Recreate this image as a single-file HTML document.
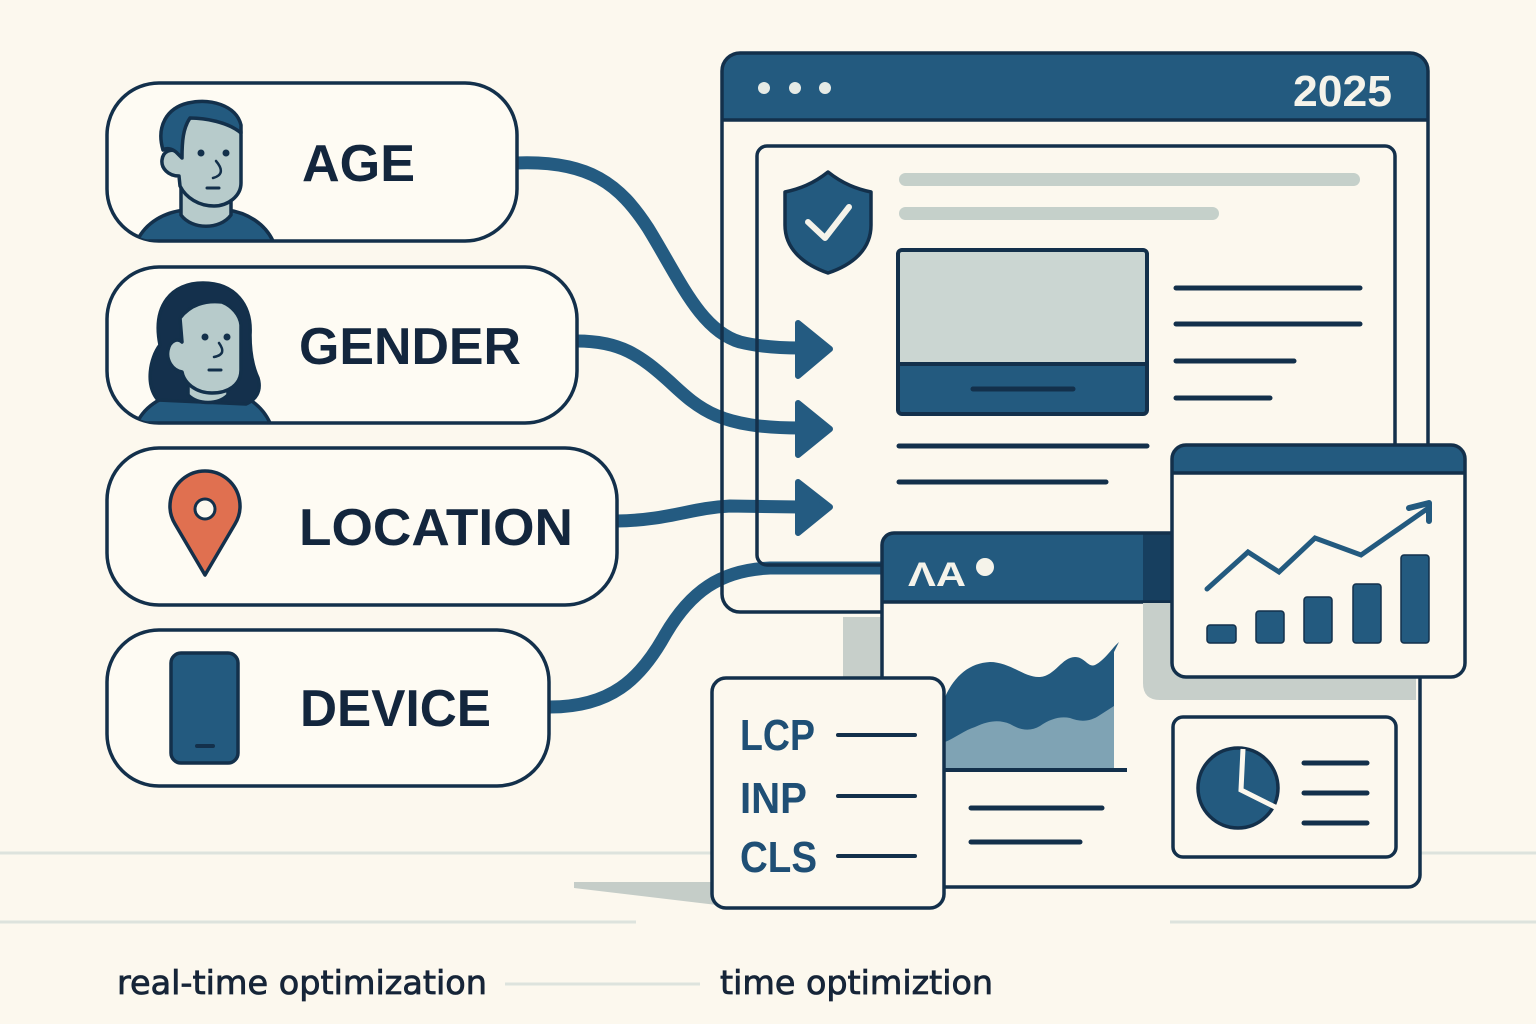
<!DOCTYPE html>
<html><head><meta charset="utf-8"><style>
html,body{margin:0;padding:0;background:#fcf8ee;}
svg{display:block}
</style></head><body>
<svg width="1536" height="1024" viewBox="0 0 1536 1024" xmlns="http://www.w3.org/2000/svg">
<defs>
<clipPath id="cAge"><rect x="107" y="83" width="410" height="158" rx="52"/></clipPath>
<clipPath id="cGen"><rect x="107" y="267" width="470" height="156" rx="52"/></clipPath>
</defs>
<rect width="1536" height="1024" fill="#fcf8ee"/>

<!-- light ground lines -->
<g stroke="#dde3dd" stroke-width="3">
<line x1="0" y1="853" x2="1536" y2="853"/>
<line x1="0" y1="922" x2="636" y2="922"/>
<line x1="1170" y1="922" x2="1536" y2="922"/>
<line x1="505" y1="984" x2="700" y2="984"/>
</g>
<polygon points="574,882 732,882 742,908 574,888" fill="#c5cdc8"/>

<!-- main browser window -->
<rect x="722" y="53" width="706" height="559" rx="18" fill="#fcf8ee"/>
<path d="M722,120 V71 Q722,53 740,53 H1410 Q1428,53 1428,71 V120 Z" fill="#235a7f"/>
<line x1="722" y1="120" x2="1428" y2="120" stroke="#13304b" stroke-width="3.5"/>
<g fill="#e6ebe6"><circle cx="764" cy="88" r="6"/><circle cx="795" cy="88" r="6"/><circle cx="825" cy="88" r="6"/></g>
<text x="1293" y="106" font-family="Liberation Sans, sans-serif" font-weight="bold" font-size="44" fill="#f5f3ea" textLength="99" lengthAdjust="spacingAndGlyphs">2025</text>

<!-- shield -->
<path d="M828,172 C843,184 857,189 871,192 L871,225 C871,250 852,265 828,273 C805,265 785,250 785,225 L785,192 C799,189 813,184 828,172 Z" fill="#235a7f" stroke="#13304b" stroke-width="3.5" stroke-linejoin="round"/>
<path d="M808,222 L825,238 L849,207" fill="none" stroke="#f5f3ea" stroke-width="6" stroke-linecap="round" stroke-linejoin="round"/>

<!-- grey bars -->
<rect x="899" y="173" width="461" height="13" rx="6.5" fill="#c5d0ca"/>
<rect x="899" y="207" width="320" height="13" rx="6.5" fill="#c5d0ca"/>

<!-- image block -->
<rect x="898" y="250" width="249" height="164" rx="4" fill="#cbd6d2"/>
<path d="M898,364 H1147 V410 Q1147,414 1143,414 H902 Q898,414 898,410 Z" fill="#235a7f"/>
<line x1="898" y1="364" x2="1147" y2="364" stroke="#13304b" stroke-width="4"/>
<rect x="898" y="250" width="249" height="164" rx="4" fill="none" stroke="#13304b" stroke-width="4"/>
<line x1="973" y1="389" x2="1073" y2="389" stroke="#13304b" stroke-width="5" stroke-linecap="round"/>

<g stroke="#13304b" stroke-width="5" stroke-linecap="round">
<line x1="1176" y1="288" x2="1360" y2="288"/>
<line x1="1176" y1="324" x2="1360" y2="324"/>
<line x1="1176" y1="361" x2="1294" y2="361"/>
<line x1="1176" y1="398" x2="1270" y2="398"/>
<line x1="899" y1="446" x2="1147" y2="446"/>
<line x1="899" y1="482" x2="1106" y2="482"/>
</g>

<!-- connectors -->
<g fill="none" stroke="#245b81" stroke-width="13">
<path d="M516,163 C590,160 620,185 648,228 C680,280 700,330 740,342 C760,347 780,348 800,348"/>
<path d="M577,341 C620,341 640,355 670,382 C700,410 720,428 800,428"/>
<path d="M617,521 C670,520 690,508 730,506 L800,507"/>
<path d="M550,707 C610,707 640,680 665,635 C690,592 720,570 770,568 L884,568"/>
</g>
<g fill="#245b81" stroke="#245b81" stroke-width="6" stroke-linejoin="round">
<polygon points="798,323 830,349 798,376"/>
<polygon points="798,403 830,429 798,455"/>
<polygon points="798,482 830,507 798,533"/>
</g>

<!-- frame outlines (on top of connectors) -->
<rect x="722" y="53" width="706" height="559" rx="18" fill="none" stroke="#13304b" stroke-width="3.5"/>
<rect x="757" y="146" width="638" height="419" rx="10" fill="none" stroke="#13304b" stroke-width="3.5"/>

<!-- shadows -->
<rect x="843" y="617" width="40" height="60" fill="#c7cfca"/>

<!-- AA dashboard window -->
<rect x="882" y="533" width="538" height="354" rx="12" fill="#fcf8ee"/>
<path d="M882,602 V545 Q882,533 894,533 H1408 Q1420,533 1420,545 V602 Z" fill="#235a7f"/>
<rect x="1143" y="533" width="40" height="69" fill="#173f5f"/>
<line x1="882" y1="602" x2="1420" y2="602" stroke="#13304b" stroke-width="3.5"/>
<rect x="882" y="533" width="538" height="354" rx="12" fill="none" stroke="#13304b" stroke-width="3.5"/>
<text x="908" y="586" font-family="Liberation Sans, DejaVu Sans, sans-serif" font-weight="bold" font-size="34" fill="#f5f3ea" textLength="58" lengthAdjust="spacingAndGlyphs">ΛA</text>
<circle cx="985" cy="567" r="9" fill="#f5f3ea"/>

<path d="M1143,603 H1416 V700 H1160 Q1143,700 1143,683 Z" fill="#c7cfca"/>

<!-- area chart -->
<path d="M945,768 L945,697 C955,675 970,663 990,662 C1010,662 1025,678 1040,677 C1055,676 1062,657 1075,657 C1085,657 1088,668 1095,665 C1105,660 1112,648 1119,642 L1114,652 L1114,768 Z" fill="#235a7f"/>
<path d="M945,742 C955,738 965,730 975,727 C990,720 1000,720 1010,724 C1020,730 1030,732 1040,726 C1050,719 1060,716 1070,718 C1080,722 1090,722 1100,715 L1114,706 L1114,768 L945,768 Z" fill="#7fa3b4"/>
<line x1="944" y1="770" x2="1127" y2="770" stroke="#13304b" stroke-width="4"/>
<g stroke="#13304b" stroke-width="5" stroke-linecap="round">
<line x1="971" y1="808" x2="1102" y2="808"/>
<line x1="971" y1="842" x2="1080" y2="842"/>
</g>

<!-- pie card -->
<rect x="1173" y="717" width="223" height="140" rx="10" fill="#fcf8ee" stroke="#13304b" stroke-width="3.5"/>
<circle cx="1238" cy="788" r="40" fill="#235a7f" stroke="#13304b" stroke-width="3.5"/>
<path d="M1243,749 L1241,790 L1277,808" fill="none" stroke="#fcf8ee" stroke-width="5"/>
<g stroke="#13304b" stroke-width="5" stroke-linecap="round">
<line x1="1304" y1="763" x2="1367" y2="763"/>
<line x1="1304" y1="793" x2="1367" y2="793"/>
<line x1="1304" y1="823" x2="1367" y2="823"/>
</g>

<!-- chart window -->
<rect x="1172" y="445" width="293" height="232" rx="14" fill="#fcf8ee"/>
<path d="M1172,473 V459 Q1172,445 1186,445 H1451 Q1465,445 1465,459 V473 Z" fill="#235a7f"/>
<line x1="1172" y1="473" x2="1465" y2="473" stroke="#13304b" stroke-width="3.5"/>
<rect x="1172" y="445" width="293" height="232" rx="14" fill="none" stroke="#13304b" stroke-width="3.5"/>
<polyline points="1207,589 1248,552 1279,572 1315,538 1361,555 1427,509" fill="none" stroke="#235a7f" stroke-width="5" stroke-linecap="round"/>
<path d="M1409,508 L1429,503 L1429,521" fill="none" stroke="#235a7f" stroke-width="6" stroke-linecap="round" stroke-linejoin="round"/>
<g fill="#235a7f" stroke="#13304b" stroke-width="1.5">
<rect x="1207" y="625" width="29" height="18" rx="3"/>
<rect x="1256" y="611" width="28" height="32" rx="3"/>
<rect x="1304" y="597" width="28" height="46" rx="3"/>
<rect x="1353" y="584" width="28" height="59" rx="3"/>
<rect x="1401" y="555" width="28" height="88" rx="3"/>
</g>

<!-- LCP card -->
<rect x="712" y="678" width="232" height="230" rx="14" fill="#fcf8ee" stroke="#13304b" stroke-width="3.5"/>
<g font-family="Liberation Sans, sans-serif" font-weight="bold" font-size="44" fill="#1f4f75">
<text x="740" y="750" textLength="75" lengthAdjust="spacingAndGlyphs">LCP</text>
<text x="740" y="813" textLength="67" lengthAdjust="spacingAndGlyphs">INP</text>
<text x="740" y="872" textLength="77" lengthAdjust="spacingAndGlyphs">CLS</text>
</g>
<g stroke="#13304b" stroke-width="4" stroke-linecap="round">
<line x1="838" y1="735" x2="915" y2="735"/>
<line x1="838" y1="796" x2="915" y2="796"/>
<line x1="838" y1="856" x2="915" y2="856"/>
</g>

<!-- pills -->
<g fill="#fefbf3" stroke="#13304b" stroke-width="3.5">
<rect x="107" y="83" width="410" height="158" rx="52"/>
<rect x="107" y="267" width="470" height="156" rx="52"/>
<rect x="107" y="448" width="510" height="157" rx="52"/>
<rect x="107" y="630" width="442" height="156" rx="52"/>
</g>

<!-- man icon -->
<g clip-path="url(#cAge)" stroke="#13304b" stroke-width="3.5" stroke-linejoin="round">
<path d="M137,241 C146,222 165,212 185,210 L228,210 C248,213 265,224 273,241 Z" fill="#235a7f"/>
</g>
<g stroke="#13304b" stroke-width="3.5" stroke-linejoin="round">
<path d="M181,180 L181,215 C192,230 220,230 231,215 L231,180 Z" fill="#b7cbcb"/>
<path d="M168,125 C170,110 185,104 205,104 C228,104 241,115 241,135 L241,183 C241,196 228,206 214,206 C199,206 186,198 180,186 L179,176 C168,176 161,168 162,160 C163,151 171,148 178,152 Z" fill="#b7cbcb"/>
<path d="M163,150 C156,126 167,108 188,103 C210,98 236,105 241,125 L241,133 C228,122 205,118 190,118 C183,128 182,142 182,158 L176,152 C171,148 166,148 163,150 Z" fill="#235a7f"/>
</g>
<g fill="#13304b"><circle cx="201" cy="153" r="3.5"/><circle cx="226" cy="153" r="3.5"/></g>
<path d="M216,161 C222,168 224,175 213,178" fill="none" stroke="#13304b" stroke-width="2.5" stroke-linecap="round"/>
<line x1="207" y1="188" x2="219" y2="188" stroke="#13304b" stroke-width="3" stroke-linecap="round"/>

<!-- woman icon -->
<g clip-path="url(#cGen)" stroke="#13304b" stroke-width="3.5" stroke-linejoin="round">
<path d="M137,423 C145,405 165,394 187,391 L227,391 C245,394 262,405 270,423 Z" fill="#235a7f"/>
</g>
<g stroke="#13304b" stroke-width="3.5" stroke-linejoin="round">
<path d="M158,400 C145,385 150,358 160,345 C152,305 172,283 203,283 C235,283 252,305 250,335 C250,350 252,365 258,378 C262,392 255,400 246,404 Z" fill="#14304c"/>
<path d="M188,372 L188,395 C198,405 218,405 228,395 L228,372 Z" fill="#b7cbcb"/>
<path d="M180,318 C190,305 205,300 222,302 C232,306 240,315 241,325 L241,370 C241,385 228,393 212,393 C196,393 184,383 182,372 C172,370 166,360 168,350 C170,340 178,338 182,342 Z" fill="#b7cbcb"/>
</g>
<g fill="#13304b"><circle cx="205" cy="337" r="3.5"/><circle cx="227" cy="337" r="3.5"/></g>
<path d="M219,343 C224,350 224,355 214,357" fill="none" stroke="#13304b" stroke-width="2.5" stroke-linecap="round"/>
<line x1="209" y1="370" x2="221" y2="370" stroke="#13304b" stroke-width="3" stroke-linecap="round"/>

<!-- location pin -->
<path d="M205,575 L175,524 A35,35 0 1 1 235,524 Z" fill="#e07050" stroke="#13304b" stroke-width="3.5" stroke-linejoin="round"/>
<circle cx="205" cy="509" r="10" fill="#fcf8ee" stroke="#13304b" stroke-width="3"/>

<!-- phone -->
<rect x="171" y="653" width="67" height="110" rx="10" fill="#235a7f" stroke="#13304b" stroke-width="3.5"/>
<line x1="197" y1="746" x2="213" y2="746" stroke="#13304b" stroke-width="4" stroke-linecap="round"/>

<!-- pill labels -->
<g font-family="Liberation Sans, sans-serif" font-weight="bold" font-size="52" fill="#13263d">
<text x="302" y="181" textLength="113" lengthAdjust="spacingAndGlyphs">AGE</text>
<text x="299" y="364" textLength="222" lengthAdjust="spacingAndGlyphs">GENDER</text>
<text x="299" y="545" textLength="274" lengthAdjust="spacingAndGlyphs">LOCATION</text>
<text x="300" y="726" textLength="191" lengthAdjust="spacingAndGlyphs">DEVICE</text>
</g>

<!-- bottom labels -->
<g font-family="DejaVu Sans, Liberation Sans, sans-serif" font-size="33" fill="#162538" stroke="#162538" stroke-width="0.8">
<text x="117" y="994" textLength="370" lengthAdjust="spacingAndGlyphs">real-time optimization</text>
<text x="720" y="994" textLength="273" lengthAdjust="spacingAndGlyphs">time optimiztion</text>
</g>
</svg>
</body></html>
